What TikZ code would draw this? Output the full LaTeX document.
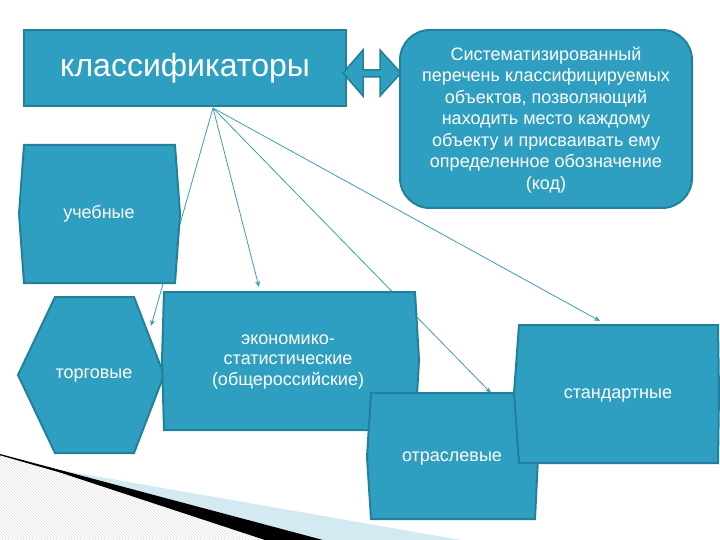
\documentclass[tikz,border=0pt]{standalone}
\usepackage{fontspec}
\setmainfont{Liberation Sans}
\usetikzlibrary{arrows.meta,patterns}
\definecolor{tealfill}{HTML}{2E9FC0}
\definecolor{tealedge}{HTML}{23809A}
\definecolor{linkcol}{HTML}{3A9DB8}
\definecolor{paleblue}{HTML}{D4EAF2}
\tikzset{
  shapebox/.style={fill=tealfill,draw=tealedge,line width=2pt,line join=miter},
  label/.style={text=white,font=\fontsize{18}{21.5}\selectfont,align=center,inner sep=0pt},
  link/.style={draw=linkcol,line width=0.8pt,-{Stealth[length=6pt,width=5pt]}}
}
\begin{document}
\begin{tikzpicture}[x=1pt,y=-1pt]
\useasboundingbox (0,0) rectangle (720,540);
% decoration bottom-left
\fill[pattern=north west lines,pattern color=gray!25] (0,456) -- (60,473) -- (265,540) -- (0,540) -- cycle;
\fill[paleblue] (60,470) -- (461,540) -- (323,540) -- cycle;
\fill[black] (0,454) -- (323,540) -- (265,540) -- (60,472.5) -- (0,455.3) -- cycle;
% connectors
\coordinate (src) at (213,108);
\coordinate (tTorg) at (151,326);
\coordinate (tEkon) at (259,287);
\coordinate (tOtr) at (491,393);
\coordinate (tStd) at (600,321);
\draw[link] (src) -- (tTorg);
\draw[link] (src) -- (tEkon);
\draw[link] (src) -- (tOtr);
\draw[link] (src) -- (tStd);
% top box
\draw[shapebox] (24,30) rectangle (346,106);
\node[label,font=\fontsize{32}{38}\selectfont] (klass) at (185,68) {классификаторы};
% double arrow
\draw[shapebox,line width=1.5pt] (343,73) -- (363,50) -- (363,70) -- (380,70) -- (380,50) -- (401,73) -- (380,96) -- (380,77) -- (363,77) -- (363,96) -- cycle;
% definition box
\draw[shapebox,rounded corners=30pt] (400,30) rectangle (692,208);
\node[label] (defn) at (546,120) {Систематизированный\\перечень классифицируемых\\объектов, позволяющий\\находить место каждому\\объекту и присваивать ему\\определенное обозначение\\(код)};
% учебные
\draw[shapebox] (24,145) -- (175,145) -- (180,214) -- (175,283) -- (24,283) -- (19,214) -- cycle;
\node[label] (ucheb) at (99,214) {учебные};
% торговые
\draw[shapebox] (55,297) -- (134,297) -- (164,375) -- (134,453) -- (55,453) -- (18,375) -- cycle;
\node[label] (torg) at (94,376) {торговые};
% экономико
\draw[shapebox] (164,292) -- (415,292) -- (419,360) -- (415,430) -- (164,430) -- (162,360) -- cycle;
\node[label,font=\fontsize{18}{20.5}\selectfont] (ekon) at (288,362) {экономико-\\статистические\\(общероссийские)};
% отраслевые
\draw[shapebox] (371,393) -- (535,393) -- (538,457) -- (535,519) -- (371,519) -- (367,457) -- cycle;
\node[label] (otr) at (452,459) {отраслевые};
% стандартные
\draw[shapebox] (519,325) -- (718,325) -- (719,393) -- (718,463) -- (519,463) -- (514,393) -- cycle;
\node[label] (std) at (618,396) {стандартные};
\end{tikzpicture}
\end{document}
